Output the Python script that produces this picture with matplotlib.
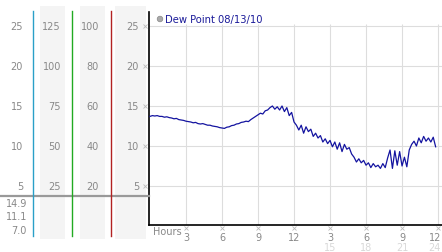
import matplotlib
matplotlib.use("Agg")
import matplotlib.pyplot as plt
from matplotlib.patches import Rectangle, Circle
import numpy as np

# dew point readings, one every 0.2 h
hours = np.arange(0, 24.0, 0.2)
dew_point = [
    13.7, 13.8, 13.75, 13.8, 13.7, 13.7, 13.6, 13.65, 13.55, 13.5,
    13.4, 13.45, 13.3, 13.25, 13.2, 13.1, 13.05, 13.0, 12.9, 12.95,
    12.8, 12.75, 12.8, 12.7, 12.6, 12.6, 12.5, 12.45, 12.4, 12.3,
    12.25, 12.2, 12.35, 12.4, 12.55, 12.6, 12.75, 12.8, 12.95, 13.0,
    13.1, 13.05, 13.3, 13.5, 13.7, 13.9, 14.1, 14.0, 14.4, 14.5,
    14.8, 15.0, 14.6, 14.9, 14.5, 15.0, 14.3, 14.8, 13.8, 14.2,
    13.0, 12.6, 12.0, 12.6, 11.6, 12.4, 11.8, 12.1, 11.2, 11.6,
    11.0, 11.3, 10.5, 10.9, 10.3, 10.7, 9.9, 10.5, 9.6, 10.4,
    9.3, 10.2, 9.6, 9.8, 9.0, 8.6, 8.0, 8.4, 7.9, 8.2,
    7.6, 7.9, 7.3, 7.8, 7.4, 7.6, 7.2, 7.8, 7.3, 8.5,
    9.5, 7.2, 9.4, 7.6, 9.3, 7.5, 8.6, 7.4, 9.5, 10.2,
    10.6, 10.0, 11.0, 10.4, 11.2, 10.6, 11.0, 10.5, 11.1, 9.9,
]

y_ticks = [5, 10, 15, 20, 25]
x_ticks = [3, 6, 9, 12, 15, 18, 21, 24]
x_labels_top = ["3", "6", "9", "12", "3", "6", "9", "12"]
x_labels_bottom = ["15", "18", "21", "24"]

# side scale columns
col1_labels = ["25", "20", "15", "10", "5"]
col2_labels = ["125", "100", "75", "50", "25"]
col3_labels = ["100", "80", "60", "40", "20"]
col4_labels = ["25", "20", "15", "10", "5"]
summary_labels = ["14.9", "11.1", "7.0"]

W, H = 442, 253
fig = plt.figure(figsize=(W / 100, H / 100), dpi=100)

# main chart in pixel box
x0, x1, ytop, ybot = 149, 442, 13, 226
ax = fig.add_axes([x0 / W, 1 - ybot / H, (x1 - x0) / W, (ybot - ytop) / H])
ax.set_xlim(-0.083, 24.33)
ax.set_ylim(0.125, 26.75)
ax.set_xticks([])
ax.set_yticks([])
for s in ["top", "right"]:
    ax.spines[s].set_visible(False)
ax.spines["left"].set_linewidth(1.2)
ax.spines["bottom"].set_linewidth(1.2)
ax.hlines(y_ticks, -0.1, 24.4, color="#dddddd", lw=0.8, zorder=1)
ax.vlines(x_ticks, 0, 25.3, color="#dddddd", lw=0.8, zorder=1)
ax.plot(hours, dew_point, color="#1414a0", lw=0.9, zorder=3)

# pixel overlay for side panel and labels
px = fig.add_axes([0, 0, 1, 1], zorder=5)
px.set_xlim(0, W)
px.set_ylim(H, 0)
px.axis("off")
px.patch.set_alpha(0)

for xa, xb in [(40, 65), (80, 105), (115, 146)]:
    px.add_patch(Rectangle((xa, 7), xb - xa, 233, color="#f4f4f4", lw=0, zorder=0))

px.plot([0, 149], [197, 197], color="#999999", lw=1.6, zorder=1)
px.plot([33, 33], [12, 237], color="#2aa0c8", lw=1, zorder=2)
px.plot([72, 72], [12, 237], color="#22aa22", lw=1, zorder=2)
px.plot([111, 111], [12, 237], color="#b22222", lw=1, zorder=2)

fs = 7
grey = "#888888"
def val_to_px(v):
    return 227 - 8 * v

for i, v in enumerate(y_ticks[::-1]):
    yp = val_to_px(v)
    px.text(23, yp, col1_labels[i], ha="right", va="center", fontsize=fs, color=grey)
    px.text(61, yp, col2_labels[i], ha="right", va="center", fontsize=fs, color=grey)
    px.text(99, yp, col3_labels[i], ha="right", va="center", fontsize=fs, color=grey)
    px.text(139, yp, col4_labels[i], ha="right", va="center", fontsize=fs, color=grey)
    px.plot(144.5, yp, marker="x", ms=2.5, mew=0.6, color="#bbbbbb")

for i, lab in enumerate(summary_labels):
    px.text(27, 204 + 13.5 * i, lab, ha="right", va="center", fontsize=fs, color=grey)

px.text(153, 232, "Hours", ha="left", va="center", fontsize=fs, color=grey)
for i, h in enumerate(x_ticks):
    xp = 150 + 12 * h
    px.plot(min(xp, 439), 229, marker="x", ms=2.5, mew=0.6, color="#bbbbbb")
    if h == 24:
        px.text(441, 238, x_labels_top[i], ha="right", va="center", fontsize=fs, color=grey)
    else:
        px.text(xp, 238, x_labels_top[i], ha="center", va="center", fontsize=fs, color=grey)
for i, lab in enumerate(x_labels_bottom):
    xp = 150 + 12 * x_ticks[4 + i]
    if i == len(x_labels_bottom) - 1:
        px.text(441, 248, lab, ha="right", va="center", fontsize=fs, color="#d8d8d8")
    else:
        px.text(xp, 248, lab, ha="center", va="center", fontsize=fs, color="#d8d8d8")

px.add_patch(Circle((160, 20), 2.8, facecolor="#aaaaaa", edgecolor="#888888", lw=0.5))
px.text(165, 20, "Dew Point 08/13/10", ha="left", va="center", fontsize=7.2, color="#1a1a99")

fig.savefig("out.png", dpi=100)
